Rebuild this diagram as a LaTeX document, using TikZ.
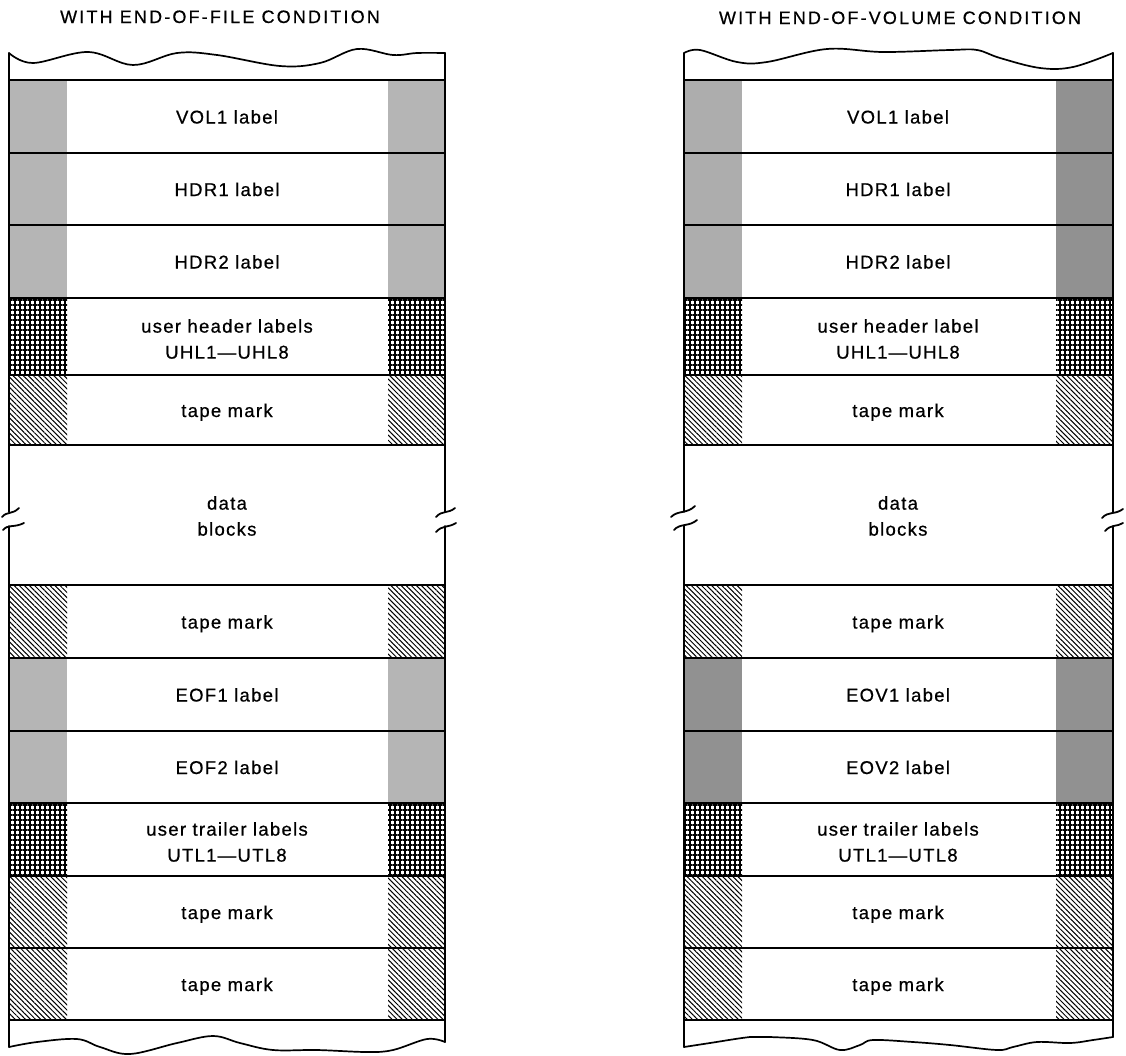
\documentclass[tikz,border=0pt]{standalone}
\usepackage{fontspec}
\setmainfont{Liberation Sans}[LetterSpace=7,FakeBold=0.6]
\usetikzlibrary{patterns.meta}
\tikzset{
  lab/.style={font=\fontsize{18.5}{26}\selectfont, align=center, inner sep=0pt},
  ttl/.style={font=\fontsize{18}{22}\selectfont\addfontfeature{LetterSpace=12}, inner sep=0pt, anchor=base},
  grl/.style={fill=black!29},
  grm/.style={fill=black!32},
  grd/.style={fill=black!43},
  xh/.style={pattern={Hatch[distance=5pt,line width=2.1pt]}},
  tm/.style={pattern={Lines[angle=-45,distance=3.6pt,line width=1.0pt]}},
  rowrule/.style={line width=1.7pt},
  sideline/.style={line width=1.8pt, line cap=round},
  wave/.style={line width=1.7pt, line cap=round, line join=round},
}
\begin{document}
\begin{tikzpicture}[x=1pt,y=1pt]
\useasboundingbox (0,0) rectangle (1126,-1055);

% ---------------- titles
\node[ttl] (t1) at (220,-23) {WITH END-OF-FILE CONDITION};
\node[ttl] (t2) at (900,-24) {WITH END-OF-VOLUME CONDITION};

% ---------------- strips left tape
\foreach \ta/\tb/\st in {80/153/grl,153/225/grl,225/298/grl,298/375/xh,375/445/tm,585/658/tm,658/731/grl,731/803/grl,803/876/xh,876/948/tm,948/1020/tm}{
  \path[\st] (9,-\ta) rectangle (67,-\tb);
  \path[\st] (388,-\ta) rectangle (445,-\tb);
}
% ---------------- strips right tape
\foreach \ta/\tb/\st/\su in {80/153/grm/grd,153/225/grm/grd,225/298/grm/grd,298/375/xh/xh,375/445/tm/tm,585/658/tm/tm,658/731/grd/grd,731/803/grd/grd,803/876/xh/xh,876/948/tm/tm,948/1020/tm/tm}{
  \path[\st] (684,-\ta) rectangle (742,-\tb);
  \path[\su] (1056,-\ta) rectangle (1113,-\tb);
}

% ---------------- row rules
\foreach \yy in {80,153,225,298,375,445,585,658,731,803,876,948,1020}{
  \draw[rowrule] (9,-\yy) -- (445,-\yy);
  \draw[rowrule] (684,-\yy) -- (1113,-\yy);
}

% ---------------- sides with break marks
\draw[sideline] (9,-53) -- (9,-512);
\draw[sideline] (9,-526) -- (9,-1047);
\draw[sideline] (2,-517) .. controls (7,-511) and (12,-515) .. (19,-508);
\draw[sideline] (3,-530) .. controls (8,-524) and (14,-528) .. (24,-523);
\draw[sideline] (445,-53) -- (445,-512);
\draw[sideline] (445,-526) -- (445,-1042);
\draw[sideline] (436,-517) .. controls (442,-510) and (448,-514) .. (455,-508);
\draw[sideline] (436,-532) .. controls (442,-525) and (448,-528) .. (456,-523);

\draw[sideline] (684,-53) -- (684,-512);
\draw[sideline] (684,-526) -- (684,-1047);
\draw[sideline] (671,-517) .. controls (678,-510) and (687,-514) .. (695,-506);
\draw[sideline] (674,-530) .. controls (680,-523) and (689,-527) .. (697,-520);
\draw[sideline] (1113,-53) -- (1113,-512);
\draw[sideline] (1113,-526) -- (1113,-1037);
\draw[sideline] (1102,-518) .. controls (1108,-511) and (1115,-515) .. (1123,-509);
\draw[sideline] (1105,-531) .. controls (1111,-524) and (1117,-527) .. (1123,-523);

% ---------------- wavy ends
\draw[wave] plot[smooth, tension=0.6] coordinates {(9,-53) (33,-63) (88,-52) (133,-65) (177,-53) (217,-55) (280,-66) (320,-63) (357,-49) (393,-55) (417,-53) (445,-53)};
\draw[wave] plot[smooth, tension=0.6] coordinates {(9,-1047) (37,-1042) (77,-1039) (100,-1047) (130,-1054) (177,-1043) (213,-1036) (240,-1043) (273,-1050) (317,-1050) (367,-1052) (393,-1050) (427,-1039) (445,-1042)};
\draw[wave] plot[smooth, tension=0.6] coordinates {(684,-53) (700,-50) (737,-62) (767,-62) (827,-49) (883,-52) (950,-50) (977,-50) (1000,-58) (1040,-68) (1073,-67) (1113,-53)};
\draw[wave] plot[smooth, tension=0.6] coordinates {(684,-1047) (710,-1043) (750,-1037) (770,-1037) (813,-1040) (840,-1050) (860,-1045) (873,-1040) (913,-1042) (950,-1045) (997,-1050) (1013,-1047) (1037,-1042) (1070,-1043) (1093,-1040) (1113,-1037)};

% ---------------- labels left tape
\node[lab, anchor=base] (l1) at (227,-123.5) {VOL1 label};
\node[lab, anchor=base] (l2) at (227,-196) {HDR1 label};
\node[lab, anchor=base] (l3) at (227,-268.5) {HDR2 label};
\node[lab] (l4) at (227,-339) {user header labels\\UHL1—UHL8};
\node[lab, anchor=base] (l5) at (227,-417) {tape mark};
\node[lab] (l6) at (227,-516) {data\\blocks};
\node[lab, anchor=base] (l7) at (227,-628.5) {tape mark};
\node[lab, anchor=base] (l8) at (227,-701.5) {EOF1 label};
\node[lab, anchor=base] (l9) at (227,-774) {EOF2 label};
\node[lab] (l10) at (227,-842) {user trailer labels\\UTL1—UTL8};
\node[lab, anchor=base] (l11) at (227,-919) {tape mark};
\node[lab, anchor=base] (l12) at (227,-991) {tape mark};

% ---------------- labels right tape
\node[lab, anchor=base] (r1) at (898,-123.5) {VOL1 label};
\node[lab, anchor=base] (r2) at (898,-196) {HDR1 label};
\node[lab, anchor=base] (r3) at (898,-268.5) {HDR2 label};
\node[lab] (r4) at (898,-339) {user header label\\UHL1—UHL8};
\node[lab, anchor=base] (r5) at (898,-417) {tape mark};
\node[lab] (r6) at (898,-516) {data\\blocks};
\node[lab, anchor=base] (r7) at (898,-628.5) {tape mark};
\node[lab, anchor=base] (r8) at (898,-701.5) {EOV1 label};
\node[lab, anchor=base] (r9) at (898,-774) {EOV2 label};
\node[lab] (r10) at (898,-842) {user trailer labels\\UTL1—UTL8};
\node[lab, anchor=base] (r11) at (898,-919) {tape mark};
\node[lab, anchor=base] (r12) at (898,-991) {tape mark};
\end{tikzpicture}
\end{document}
